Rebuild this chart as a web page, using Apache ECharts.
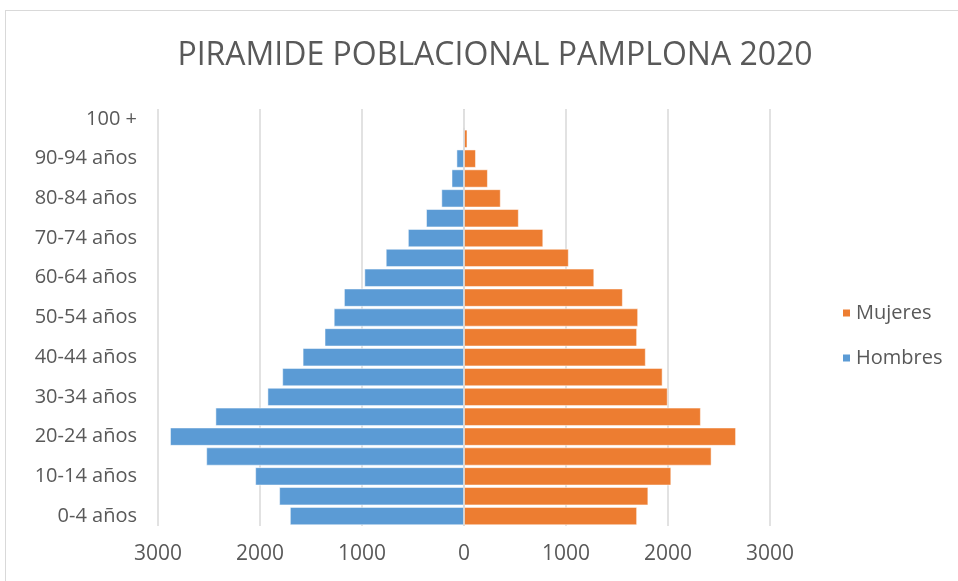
<!DOCTYPE html>
<html>
<head>
<meta charset="utf-8">
<script src="https://cdn.jsdelivr.net/npm/echarts@6/dist/echarts.min.js"></script>
<style>
  html, body { margin: 0; padding: 0; background: #fff; }
  #frame { position: absolute; left: 5px; top: 10px; width: 1000px; height: 600px; border: 1px solid #d9d9d9; }
  #chart { position: absolute; left: 0; top: 0; width: 958px; height: 581px; }
</style>
</head>
<body>
<div id="frame"></div>
<div id="chart"></div>
<script>
// grupos de edad, de abajo hacia arriba
const grupos = ['0-4 años', '5-9 años', '10-14 años', '15-19 años', '20-24 años', '25-29 años',
  '30-34 años', '35-39 años', '40-44 años', '45-49 años', '50-54 años', '55-59 años',
  '60-64 años', '65-69 años', '70-74 años', '75-79 años', '80-84 años', '85-89 años',
  '90-94 años', '95-99 años', '100 +']

const hombres = [1705, 1810, 2045, 2525, 2880, 2435, 1925, 1780, 1580, 1365, 1275,
  1175, 975, 765, 548, 370, 220, 120, 72, 6, 2]

const mujeres = [1695, 1805, 2030, 2425, 2665, 2320, 1995, 1945, 1780, 1695, 1705,
  1555, 1275, 1025, 775, 535, 358, 232, 115, 32, 4]

const ticks = [-3000, -2000, -1000, 0, 1000, 2000, 3000]

const chart = echarts.init(document.getElementById('chart'))

const gris = '#595959'

chart.setOption({
  animation: false,
  title: {
    text: 'PIRAMIDE POBLACIONAL PAMPLONA 2020',
    left: 490,
    textAlign: 'center',
    top: 35,
    textStyle: {
      fontFamily: 'Open Sans',
      fontSize: 32,
      fontWeight: 'normal',
      color: gris
    }
  },
  legend: {
    orient: 'vertical',
    left: 836,
    top: 298,
    itemGap: 25,
    itemWidth: 9,
    itemHeight: 9,
    icon: 'rect',
    data: ['Mujeres', 'Hombres'],
    textStyle: { fontFamily: 'Open Sans', fontSize: 20, color: gris }
  },
  grid: {
    left: 158,
    right: 958 - 770,
    top: 109,
    bottom: 581 - 526,
    containLabel: false,
    outerBoundsMode: 'none'
  },
  xAxis: {
    type: 'value',
    min: ticks[0],
    max: ticks[ticks.length - 1],
    interval: 1000,
    axisLine: { show: false },
    axisTick: { show: false },
    axisLabel: {
      formatter: v => Math.abs(v),
      fontFamily: 'Open Sans',
      fontSize: 21,
      color: gris,
      margin: 18
    },
    splitLine: { lineStyle: { color: '#d9d9d9', width: 1.5 } }
  },
  yAxis: {
    type: 'category',
    data: grupos,
    axisTick: { show: false },
    axisLine: { show: false, onZero: false },
    axisLabel: {
      interval: 1,
      fontFamily: 'Open Sans',
      fontSize: 20,
      color: gris,
      margin: 21
    }
  },
  series: [
    {
      name: 'Hombres',
      type: 'bar',
      stack: 'total',
      barCategoryGap: '10%',
      data: hombres.map(v => -v),
      itemStyle: { color: '#5b9bd5', borderColor: '#fff', borderWidth: 0.5 }
    },
    {
      name: 'Mujeres',
      type: 'bar',
      stack: 'total',
      barCategoryGap: '10%',
      data: mujeres,
      itemStyle: { color: '#ed7d31', borderColor: '#fff', borderWidth: 0.5 },
      markLine: {
        silent: true,
        symbol: 'none',
        label: { show: false },
        lineStyle: { color: '#d9d9d9', width: 1.5, type: 'solid' },
        data: [{ xAxis: 0 }]
      }
    }
  ]
})
</script>
</body>
</html>
